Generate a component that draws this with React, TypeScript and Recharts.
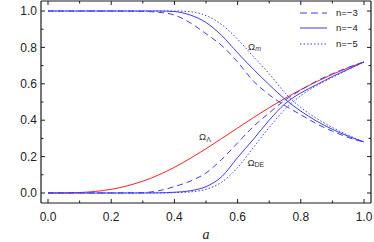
import React from 'react';
import { LineChart, Line, XAxis, YAxis, ReferenceDot, Label } from 'recharts';

// scale factor a
const aValues = [0, 0.05, 0.1, 0.15, 0.2, 0.25, 0.3, 0.35, 0.4, 0.45, 0.5, 0.55, 0.6, 0.65, 0.7, 0.75, 0.8, 0.85, 0.9, 0.95, 1];

// Omega_Lambda (red)
const omegaLambda = [0, 0.0003, 0.0026, 0.0086, 0.02, 0.039, 0.065, 0.099, 0.141, 0.19, 0.243, 0.3, 0.357, 0.414, 0.469, 0.52, 0.568, 0.612, 0.652, 0.688, 0.72];

// Omega_m for n = -3, -4, -5
const omegaM3 = [1, 1, 1, 1, 1, 0.9995, 0.998, 0.993, 0.978, 0.935, 0.875, 0.81, 0.72, 0.615, 0.54, 0.48, 0.43, 0.38, 0.34, 0.305, 0.28];
const omegaM4 = [1, 1, 1, 1, 1, 1, 1, 1, 0.997, 0.978, 0.937, 0.865, 0.77, 0.68, 0.595, 0.515, 0.45, 0.395, 0.35, 0.312, 0.28];
const omegaM5 = [1, 1, 1, 1, 1, 1, 1, 1, 1, 0.996, 0.975, 0.925, 0.845, 0.75, 0.655, 0.55, 0.47, 0.41, 0.36, 0.318, 0.28];

// Omega_DE for n = -3, -4, -5
const omegaDE3 = [0, 0, 0, 0, 0, 0.0005, 0.002, 0.012, 0.035, 0.065, 0.11, 0.185, 0.275, 0.365, 0.44, 0.51, 0.565, 0.615, 0.655, 0.69, 0.72];
const omegaDE4 = [0, 0, 0, 0, 0, 0, 0, 0.001, 0.004, 0.012, 0.035, 0.09, 0.195, 0.295, 0.4, 0.49, 0.55, 0.595, 0.64, 0.68, 0.72];
const omegaDE5 = [0, 0, 0, 0, 0, 0, 0, 0, 0.002, 0.006, 0.02, 0.06, 0.14, 0.25, 0.36, 0.46, 0.535, 0.59, 0.635, 0.678, 0.72];

const xTicks = [0, 0.1, 0.2, 0.3, 0.4, 0.5, 0.6, 0.7, 0.8, 0.9, 1];
const yTicks = [0, 0.1, 0.2, 0.3, 0.4, 0.5, 0.6, 0.7, 0.8, 0.9, 1];

const legendItems = [
  { label: 'n=\u22123', dash: '7 4' },
  { label: 'n=\u22124', dash: '' },
  { label: 'n=\u22125', dash: '1.5 2' },
];

const annotations = [
  { a: 0.652, v: 0.805, sub: 'm', italic: true },
  { a: 0.497, v: 0.31, sub: '\u039b', italic: false },
  { a: 0.65, v: 0.168, sub: 'DE', italic: false },
];

const data = aValues.map((a, i) => ({
  a,
  lam: omegaLambda[i],
  m3: omegaM3[i],
  m4: omegaM4[i],
  m5: omegaM5[i],
  de3: omegaDE3[i],
  de4: omegaDE4[i],
  de5: omegaDE5[i],
}));

const BLUE = '#3a3aff';
const RED = '#ff2020';
const FRAME = '#1a1a1a';
const FONT = '"Liberation Sans", Arial, sans-serif';

const isMajor = (v: number) => Math.abs(v * 5 - Math.round(v * 5)) < 1e-6;

const BottomTick = ({ x, y, payload }: any) => {
  const major = isMajor(payload.value);
  return (
    <g>
      <line x1={x} x2={x} y1={y} y2={y - (major ? 4 : 2.5)} stroke={FRAME} strokeWidth={1} />
      {major && (
        <text x={x} y={y + 18} textAnchor="middle" fontSize={12} fontFamily={FONT} fill="#222">
          {payload.value.toFixed(1)}
        </text>
      )}
    </g>
  );
};

const TopTick = ({ x, y, payload }: any) => {
  const major = isMajor(payload.value);
  return <line x1={x} x2={x} y1={y} y2={y + (major ? 4 : 2.5)} stroke={FRAME} strokeWidth={1} />;
};

const LeftTick = ({ x, y, payload }: any) => {
  const major = isMajor(payload.value);
  return (
    <g>
      <line x1={x} x2={x + (major ? 4 : 2.5)} y1={y} y2={y} stroke={FRAME} strokeWidth={1} />
      {major && (
        <text x={x - 4} y={y + 4.3} textAnchor="end" fontSize={12} fontFamily={FONT} fill="#222">
          {payload.value.toFixed(1)}
        </text>
      )}
    </g>
  );
};

const RightTick = ({ x, y, payload }: any) => {
  const major = isMajor(payload.value);
  return <line x1={x} x2={x - (major ? 4 : 2.5)} y1={y} y2={y} stroke={FRAME} strokeWidth={1} />;
};

const OmegaLabel = ({ viewBox, sub, italic }: any) => {
  const cx = viewBox.x + viewBox.width / 2;
  const cy = viewBox.y + viewBox.height / 2;
  return (
    <text x={cx - 6} y={cy + 3.5} fontSize={9.5} fontFamily={FONT} fill="#333">
      {'\u03a9'}
      <tspan fontSize={7} dy={1.5} fontStyle={italic ? 'italic' : 'normal'}>{sub}</tspan>
    </text>
  );
};

const LegendBox = () => (
  <div style={{ position: 'absolute', left: 300, top: 5, fontFamily: FONT, fontSize: 9.5, color: '#222' }}>
    {legendItems.map((it) => (
      <div key={it.label} style={{ display: 'flex', alignItems: 'center', height: 15.5 }}>
        <svg width={36} height={6} style={{ display: 'block' }}>
          <line x1={0} x2={27} y1={3} y2={3} stroke={BLUE} strokeWidth={1} strokeDasharray={it.dash} />
        </svg>
        <span style={{ lineHeight: '10px' }}>{it.label}</span>
      </div>
    ))}
  </div>
);

export default function App() {
  return (
    <div style={{ position: 'absolute', left: 0, top: 0, width: 374, height: 242, background: '#fff' }}>
      <LineChart width={374} height={242} data={data} margin={{ top: 0, right: 0, bottom: 0, left: 0 }}>
        <XAxis
          dataKey="a"
          type="number"
          domain={[-0.0222, 1.0222]}
          ticks={xTicks}
          allowDataOverflow
          height={39}
          tickSize={0}
          tickMargin={0}
          tickLine={false}
          axisLine={{ stroke: FRAME, strokeWidth: 1.2 }}
          tick={<BottomTick />}
          interval={0}
        >
          <Label
            value="a"
            position="insideBottom"
            offset={3}
            style={{ fontFamily: '"Liberation Serif", "DejaVu Serif", serif', fontStyle: 'italic', fontSize: 14, fill: '#222' }}
          />
        </XAxis>
        <XAxis
          xAxisId="top"
          orientation="top"
          dataKey="a"
          type="number"
          domain={[-0.0222, 1.0222]}
          ticks={xTicks}
          allowDataOverflow
          height={1}
          tickSize={0}
          tickMargin={0}
          tickLine={false}
          axisLine={{ stroke: FRAME, strokeWidth: 1.2 }}
          tick={<TopTick />}
          interval={0}
        />
        <YAxis
          type="number"
          domain={[-0.055, 1.055]}
          ticks={yTicks}
          allowDataOverflow
          width={41}
          tickSize={0}
          tickMargin={0}
          tickLine={false}
          axisLine={{ stroke: FRAME, strokeWidth: 1.2 }}
          tick={<LeftTick />}
          interval={0}
        />
        <YAxis
          yAxisId="right"
          orientation="right"
          type="number"
          domain={[-0.055, 1.055]}
          ticks={yTicks}
          allowDataOverflow
          width={3}
          tickSize={0}
          tickMargin={0}
          tickLine={false}
          axisLine={{ stroke: FRAME, strokeWidth: 1.2 }}
          tick={<RightTick />}
          interval={0}
        />
        <Line type="monotone" dataKey="lam" stroke={RED} strokeWidth={1} dot={false} isAnimationActive={false} />
        <Line type="monotone" dataKey="m3" stroke={BLUE} strokeWidth={1} strokeDasharray="6 4" dot={false} isAnimationActive={false} />
        <Line type="monotone" dataKey="m4" stroke={BLUE} strokeWidth={1} dot={false} isAnimationActive={false} />
        <Line type="monotone" dataKey="m5" stroke={BLUE} strokeWidth={1} strokeDasharray="1.5 2" dot={false} isAnimationActive={false} />
        <Line type="monotone" dataKey="de3" stroke={BLUE} strokeWidth={1} strokeDasharray="6 4" dot={false} isAnimationActive={false} />
        <Line type="monotone" dataKey="de4" stroke={BLUE} strokeWidth={1} dot={false} isAnimationActive={false} />
        <Line type="monotone" dataKey="de5" stroke={BLUE} strokeWidth={1} strokeDasharray="1.5 2" dot={false} isAnimationActive={false} />
        {annotations.map((an) => (
          <ReferenceDot
            key={an.sub}
            x={an.a}
            y={an.v}
            r={0}
            fill="none"
            stroke="none"
            label={{ content: (p: any) => <OmegaLabel viewBox={p.viewBox} sub={an.sub} italic={an.italic} /> }}
          />
        ))}
      </LineChart>
      <LegendBox />
    </div>
  );
}
